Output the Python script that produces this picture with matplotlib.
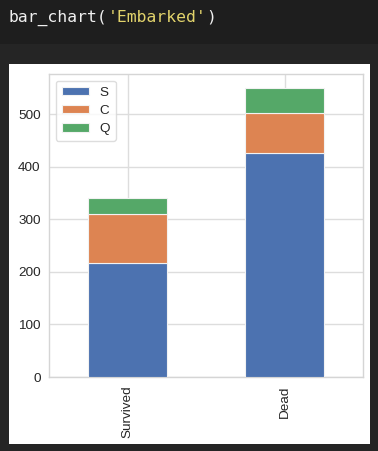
import matplotlib
matplotlib.use('Agg')
import matplotlib.pyplot as plt
from matplotlib.patches import Rectangle

# Titanic passengers by port of embarkation
categories = ['Survived', 'Dead']
ports = ['S', 'C', 'Q']
S_counts = [217, 427]
C_counts = [93, 75]
Q_counts = [30, 47]
port_colors = ['#4c72b0', '#dd8452', '#55a868']

W, H = 378, 451
fig = plt.figure(figsize=(W / 100, H / 100), dpi=100, facecolor='#252525')

# background: notebook cell header and white output panel
bg = fig.add_axes([0, 0, 1, 1], zorder=-10)
bg.set_xlim(0, W)
bg.set_ylim(H, 0)
bg.axis('off')
bg.add_patch(Rectangle((0, 0), W, 44, facecolor='#1e1e1e', edgecolor='none'))
bg.add_patch(Rectangle((9, 64), 361, 380, facecolor='white', edgecolor='none'))

code_size = 11.8
char_w = 0.602 * code_size * 100 / 72
x0 = 9
for txt, col in [("bar_chart(", '#f0f0f0'), ("'Embarked'", '#e2d36b'), (")", '#f0f0f0')]:
    bg.text(x0, 22, txt, family='DejaVu Sans Mono', fontsize=code_size, color=col, va='baseline')
    x0 += len(txt) * char_w

ax = fig.add_axes([49 / W, 74 / H, 314 / W, 303 / H])
ax.set_facecolor('white')

x = range(len(categories))
bottom = [0] * len(categories)
for name, vals, col in zip(ports, [S_counts, C_counts, Q_counts], port_colors):
    ax.bar(x, vals, 0.5, bottom=bottom, color=col, label=name,
           edgecolor='#f2f2f2', linewidth=0.8, zorder=3)
    bottom = [b + v for b, v in zip(bottom, vals)]

fs = 9.7
ax.set_xlim(-0.5, 1.5)
ax.set_ylim(0, max(bottom) * 1.05)
ax.set_xticks(list(x))
ax.set_xticklabels(categories, rotation=90, family='Liberation Sans', fontsize=fs, color='#262626')
ax.set_yticks([0, 100, 200, 300, 400, 500])
for lab in ax.get_yticklabels():
    lab.set_family('Liberation Sans')
    lab.set_fontsize(fs)
    lab.set_color('#262626')
ax.tick_params(length=0, pad=6)
ax.grid(True, color='#dddddd', linewidth=1, zorder=0)
ax.set_axisbelow(True)
for sp in ax.spines.values():
    sp.set_color('#d5d5d5')
    sp.set_linewidth(1)

leg = ax.legend(loc='upper left', prop={'family': 'Liberation Sans', 'size': fs},
                frameon=True, handlelength=2.0, handleheight=0.6, borderpad=0.45,
                labelspacing=0.45)
leg.get_frame().set_edgecolor('#d5d5d5')
for t in leg.get_texts():
    t.set_color('#262626')

fig.savefig('out.png', dpi=100, facecolor=fig.get_facecolor())
